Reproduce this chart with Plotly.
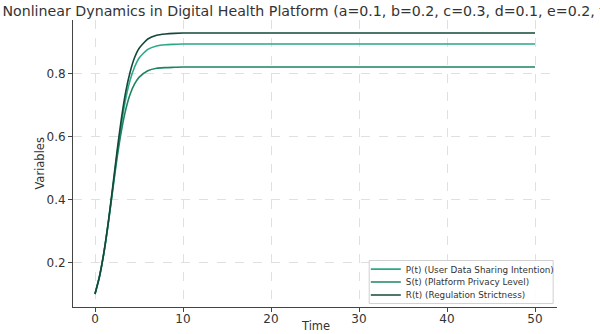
import plotly.graph_objects as go

time = [0, 0.5, 1, 1.5, 2, 2.5, 3, 3.5, 4, 4.5, 5, 6, 7, 8, 9, 10, 12, 15, 20, 30, 40, 50]
p_user = [0.100, 0.154, 0.228, 0.323, 0.431, 0.542, 0.641, 0.722, 0.781, 0.822, 0.850,
          0.878, 0.889, 0.893, 0.894, 0.895, 0.895, 0.895, 0.895, 0.895, 0.895, 0.895]
s_privacy = [0.100, 0.155, 0.230, 0.324, 0.428, 0.531, 0.619, 0.687, 0.736, 0.768, 0.789,
             0.810, 0.818, 0.820, 0.821, 0.822, 0.822, 0.822, 0.822, 0.822, 0.822, 0.822]
r_regulation = [0.100, 0.154, 0.230, 0.326, 0.438, 0.553, 0.658, 0.744, 0.807, 0.852, 0.881,
                0.911, 0.923, 0.927, 0.929, 0.930, 0.930, 0.930, 0.930, 0.930, 0.930, 0.930]

TITLE = "Nonlinear Dynamics in Digital Health Platform (a=0.1, b=0.2, c=0.3, d=0.1, e=0.2, f=0.3)"
FONT = "DejaVu Sans"
P_COLOR = "#2aa889"
S_COLOR = "#1c8463"
R_COLOR = "#14483a"

# one legend per series so the rows can sit as tightly as matplotlib's
series = [
    (p_user, "P(t) (User Data Sharing Intention)", P_COLOR, "legend", 0.132),
    (s_privacy, "S(t) (Platform Privacy Level)", S_COLOR, "legend2", 0.087),
    (r_regulation, "R(t) (Regulation Strictness)", R_COLOR, "legend3", 0.042),
]

fig = go.Figure()
legends = {}
for y, name, color, leg, ypos in series:
    fig.add_trace(go.Scatter(x=time, y=y, name=name, mode="lines", legend=leg,
                             line=dict(color=color, width=1.6, shape="spline", smoothing=0.6)))
    legends[leg] = dict(x=0.605, xanchor="left", y=ypos, yanchor="middle",
                        bgcolor="rgba(0,0,0,0)", borderwidth=0,
                        font=dict(size=8.8, color="#333"), itemwidth=30)

axis_style = dict(
    showline=True, linecolor="#444", linewidth=1,
    ticks="outside", ticklen=4, tickcolor="#444",
    showgrid=True, gridcolor="#e0e0e0", griddash="dash", gridwidth=0.8,
    zeroline=False, tickfont=dict(size=12, color="#333"), automargin=False,
)

fig.update_layout(
    width=600, height=334,
    margin=dict(l=73, r=43, t=20, b=27),
    paper_bgcolor="white", plot_bgcolor="white",
    font=dict(family=FONT, color="#333"),
    title=dict(text=TITLE, xref="container", x=0.004, xanchor="left",
               yref="container", y=0.968, yanchor="middle",
               font=dict(size=14.2, color="#333")),
    xaxis=dict(axis_style, range=[-2.5, 52.5], tickvals=[0, 10, 20, 30, 40, 50],
               ticklabelstandoff=-3),
    yaxis=dict(axis_style, range=[0.0585, 0.9715], tickvals=[0.2, 0.4, 0.6, 0.8],
               tickformat=".1f"),
    showlegend=True,
    **legends,
)

# axis titles placed as annotations (the margins are too tight for plotly's own)
fig.add_annotation(text="Time", xref="paper", yref="paper", x=0.5, y=-0.067,
                   xanchor="center", yanchor="middle", showarrow=False,
                   font=dict(size=11.5, color="#333"))
fig.add_annotation(text="Variables", xref="paper", yref="paper", x=-0.07, y=0.5,
                   xanchor="center", yanchor="middle", textangle=-90, showarrow=False,
                   font=dict(size=11.5, color="#333"))

# legend frame
fig.add_shape(type="rect", xref="paper", yref="paper",
              x0=0.612, x1=0.992, y0=0.012, y1=0.162,
              line=dict(color="#d0d0d0", width=1), fillcolor="rgba(255,255,255,0.9)",
              layer="above")

# drop the default body margin so the 600x334 figure fills the window exactly
fig.write_html("out.html", config={"displayModeBar": False},
               post_script="document.body.style.margin='0';")
